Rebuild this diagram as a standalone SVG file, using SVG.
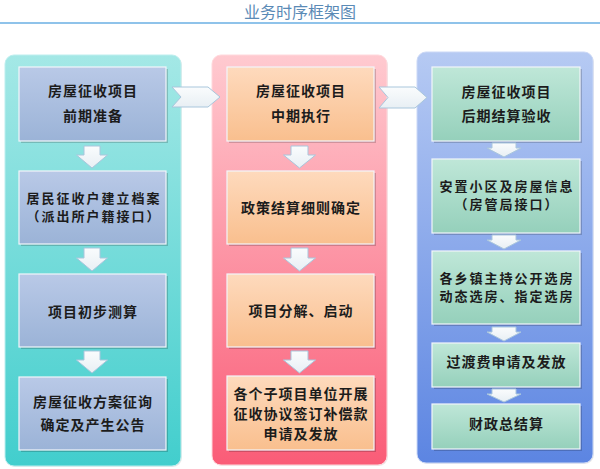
<svg xmlns="http://www.w3.org/2000/svg" width="600" height="469" viewBox="0 0 600 469">
<defs>
  <linearGradient id="gTeal" x1="0" y1="0" x2="0" y2="1">
    <stop offset="0" stop-color="#a4e8e6"/>
    <stop offset="1" stop-color="#42cecd"/>
  </linearGradient>
  <linearGradient id="gPink" x1="0" y1="0" x2="0" y2="1">
    <stop offset="0" stop-color="#ffcad0"/>
    <stop offset="1" stop-color="#fa5c77"/>
  </linearGradient>
  <linearGradient id="gBlue" x1="0" y1="0" x2="0" y2="1">
    <stop offset="0" stop-color="#b6caf3"/>
    <stop offset="1" stop-color="#5c85e2"/>
  </linearGradient>
  <linearGradient id="bBlue" x1="0" y1="0" x2="0" y2="1">
    <stop offset="0" stop-color="#b9c9e7"/>
    <stop offset="1" stop-color="#9bb3d7"/>
  </linearGradient>
  <linearGradient id="bPeach" x1="0" y1="0" x2="0" y2="1">
    <stop offset="0" stop-color="#fedabd"/>
    <stop offset="1" stop-color="#f9bf8e"/>
  </linearGradient>
  <linearGradient id="bMint" x1="0" y1="0" x2="0" y2="1">
    <stop offset="0" stop-color="#bfe7d8"/>
    <stop offset="1" stop-color="#95d0bb"/>
  </linearGradient>
  <linearGradient id="gArrow" x1="0" y1="0" x2="0" y2="1">
    <stop offset="0" stop-color="#fafcfd"/>
    <stop offset="1" stop-color="#e8eff4"/>
  </linearGradient>
</defs>
<style>
  .title { font-family: "Noto Sans CJK SC", "Liberation Serif", serif; font-size: 16px; fill: #5a8ab6; text-anchor: middle; }
  .t { font-family: "Noto Sans CJK SC", "Liberation Sans", sans-serif; font-size: 14px; letter-spacing: 1px; font-weight: bold; fill: #1c1c1c; text-anchor: middle; }
  .ts { font-size: 13px; letter-spacing: 2px; }
  .col { stroke-width: 1; }
  .sh { fill: #000; opacity: 0.18; }
  .box { stroke: #f2f6fa; stroke-width: 1.2; }
  .arr { fill: url(#gArrow); stroke: #a9c6dc; stroke-width: 1; }
</style>

<text class="title" x="300" y="18">业务时序框架图</text>
<line x1="0" y1="23" x2="600" y2="23" stroke="#8fc3ea" stroke-width="2"/>

<g id="col1">
  <rect x="6" y="56" width="176" height="411" rx="9" fill="#000" opacity="0.08"/>
  <rect class="col" x="5" y="55" width="176" height="411" rx="9" fill="url(#gTeal)" stroke="#bdeeee"/>
</g>
<g id="col2">
  <rect x="213" y="56" width="175" height="410" rx="9" fill="#000" opacity="0.08"/>
  <rect class="col" x="212" y="55" width="175" height="410" rx="9" fill="url(#gPink)" stroke="#ffd8dc"/>
</g>
<g id="col3">
  <rect x="418" y="53" width="176" height="411" rx="9" fill="#000" opacity="0.08"/>
  <rect class="col" x="417" y="52" width="176" height="411" rx="9" fill="url(#gBlue)" stroke="#cbd8f6"/>
</g>

<g id="n1a">
  <rect class="sh" x="21" y="69" width="147" height="74"/>
  <rect class="box" x="19" y="67" width="147" height="74" fill="url(#bBlue)"/>
  <text class="t" x="93" y="96">房屋征收项目</text>
  <text class="t" x="93" y="121">前期准备</text>
</g>
<g id="n1b">
  <rect class="sh" x="21" y="173" width="147" height="73"/>
  <rect class="box" x="19" y="171" width="147" height="73" fill="url(#bBlue)"/>
  <text class="t ts" x="94" y="202.5">居民征收户建立档案</text>
  <text class="t ts" x="94" y="221">（派出所户籍接口）</text>
</g>
<g id="n1c">
  <rect class="sh" x="21" y="276" width="147" height="73"/>
  <rect class="box" x="19" y="274" width="147" height="73" fill="url(#bBlue)"/>
  <text class="t" x="93" y="317">项目初步测算</text>
</g>
<g id="n1d">
  <rect class="sh" x="21" y="379" width="147" height="73"/>
  <rect class="box" x="19" y="377" width="147" height="73" fill="url(#bBlue)"/>
  <text class="t" x="93" y="407">房屋征收方案征询</text>
  <text class="t" x="93" y="430">确定及产生公告</text>
</g>

<g id="n2a">
  <rect class="sh" x="229" y="69" width="147" height="74"/>
  <rect class="box" x="227" y="67" width="147" height="74" fill="url(#bPeach)"/>
  <text class="t" x="301" y="96">房屋征收项目</text>
  <text class="t" x="301" y="121">中期执行</text>
</g>
<g id="n2b">
  <rect class="sh" x="229" y="173" width="147" height="73"/>
  <rect class="box" x="227" y="171" width="147" height="73" fill="url(#bPeach)"/>
  <text class="t" x="301" y="213">政策结算细则确定</text>
</g>
<g id="n2c">
  <rect class="sh" x="229" y="276" width="147" height="73"/>
  <rect class="box" x="227" y="274" width="147" height="73" fill="url(#bPeach)"/>
  <text class="t" x="301" y="316">项目分解、启动</text>
</g>
<g id="n2d">
  <rect class="sh" x="229" y="378" width="147" height="74"/>
  <rect class="box" x="227" y="376" width="147" height="74" fill="url(#bPeach)"/>
  <text class="t" x="301" y="399">各个子项目单位开展</text>
  <text class="t" x="301" y="419">征收协议签订补偿款</text>
  <text class="t" x="301" y="439">申请及发放</text>
</g>

<g id="n3a">
  <rect class="sh" x="434" y="69" width="148" height="74"/>
  <rect class="box" x="432" y="67" width="148" height="74" fill="url(#bMint)"/>
  <text class="t" x="506.5" y="96.5">房屋征收项目</text>
  <text class="t" x="506.5" y="121">后期结算验收</text>
</g>
<g id="n3b">
  <rect class="sh" x="434" y="161" width="148" height="74"/>
  <rect class="box" x="432" y="159" width="148" height="74" fill="url(#bMint)"/>
  <text class="t ts" x="507" y="190.5">安置小区及房屋信息</text>
  <text class="t ts" x="507" y="209">（房管局接口）</text>
</g>
<g id="n3c">
  <rect class="sh" x="434" y="253" width="148" height="73"/>
  <rect class="box" x="432" y="251" width="148" height="73" fill="url(#bMint)"/>
  <text class="t ts" x="507" y="282.5">各乡镇主持公开选房</text>
  <text class="t ts" x="507" y="301">动态选房、指定选房</text>
</g>
<g id="n3d">
  <rect class="sh" x="434" y="345" width="148" height="44"/>
  <rect class="box" x="432" y="343" width="148" height="44" fill="url(#bMint)"/>
  <text class="t" x="506.5" y="367">过渡费申请及发放</text>
</g>
<g id="n3e">
  <rect class="sh" x="434" y="406" width="148" height="45"/>
  <rect class="box" x="432" y="404" width="148" height="45" fill="url(#bMint)"/>
  <text class="t" x="506.5" y="429">财政总结算</text>
</g>

<g id="connectors">
  <!-- column 1 down arrows -->
  <path class="arr" d="M84,146 H100 V155 H107.5 L92,168 L76.5,155 H84 Z"/>
  <path class="arr" d="M84,248 H100 V258 H107.5 L92,271 L76.5,258 H84 Z"/>
  <path class="arr" d="M84,351 H100 V360 H107.5 L92,373 L76.5,360 H84 Z"/>
  <!-- column 2 down arrows -->
  <path class="arr" d="M291,146 H308 V155 H315.5 L299.5,168 L283.5,155 H291 Z"/>
  <path class="arr" d="M291,248 H308 V258 H315.5 L299.5,271 L283.5,258 H291 Z"/>
  <path class="arr" d="M291,351 H308 V360 H315.5 L299.5,373 L283.5,360 H291 Z"/>
  <!-- column 3 down arrows -->
  <path class="arr" d="M492,143 H516 V148 H521 L504,157 L487,148 H492 Z"/>
  <path class="arr" d="M492,235 H516 V240 H521 L504,249 L487,240 H492 Z"/>
  <path class="arr" d="M492,327 H516 V332 H521 L504,341 L487,332 H492 Z"/>
  <path class="arr" d="M492,389 H516 V394 H521 L504,402 L487,394 H492 Z"/>
  <!-- chevrons between columns -->
  <path class="arr" d="M172,87 H208 L220,97 L208,107 H172 L181,97 Z"/>
  <path class="arr" d="M379,87 H415 L427,97.5 L415,108 H379 L388,97.5 Z"/>
</g>
</svg>
